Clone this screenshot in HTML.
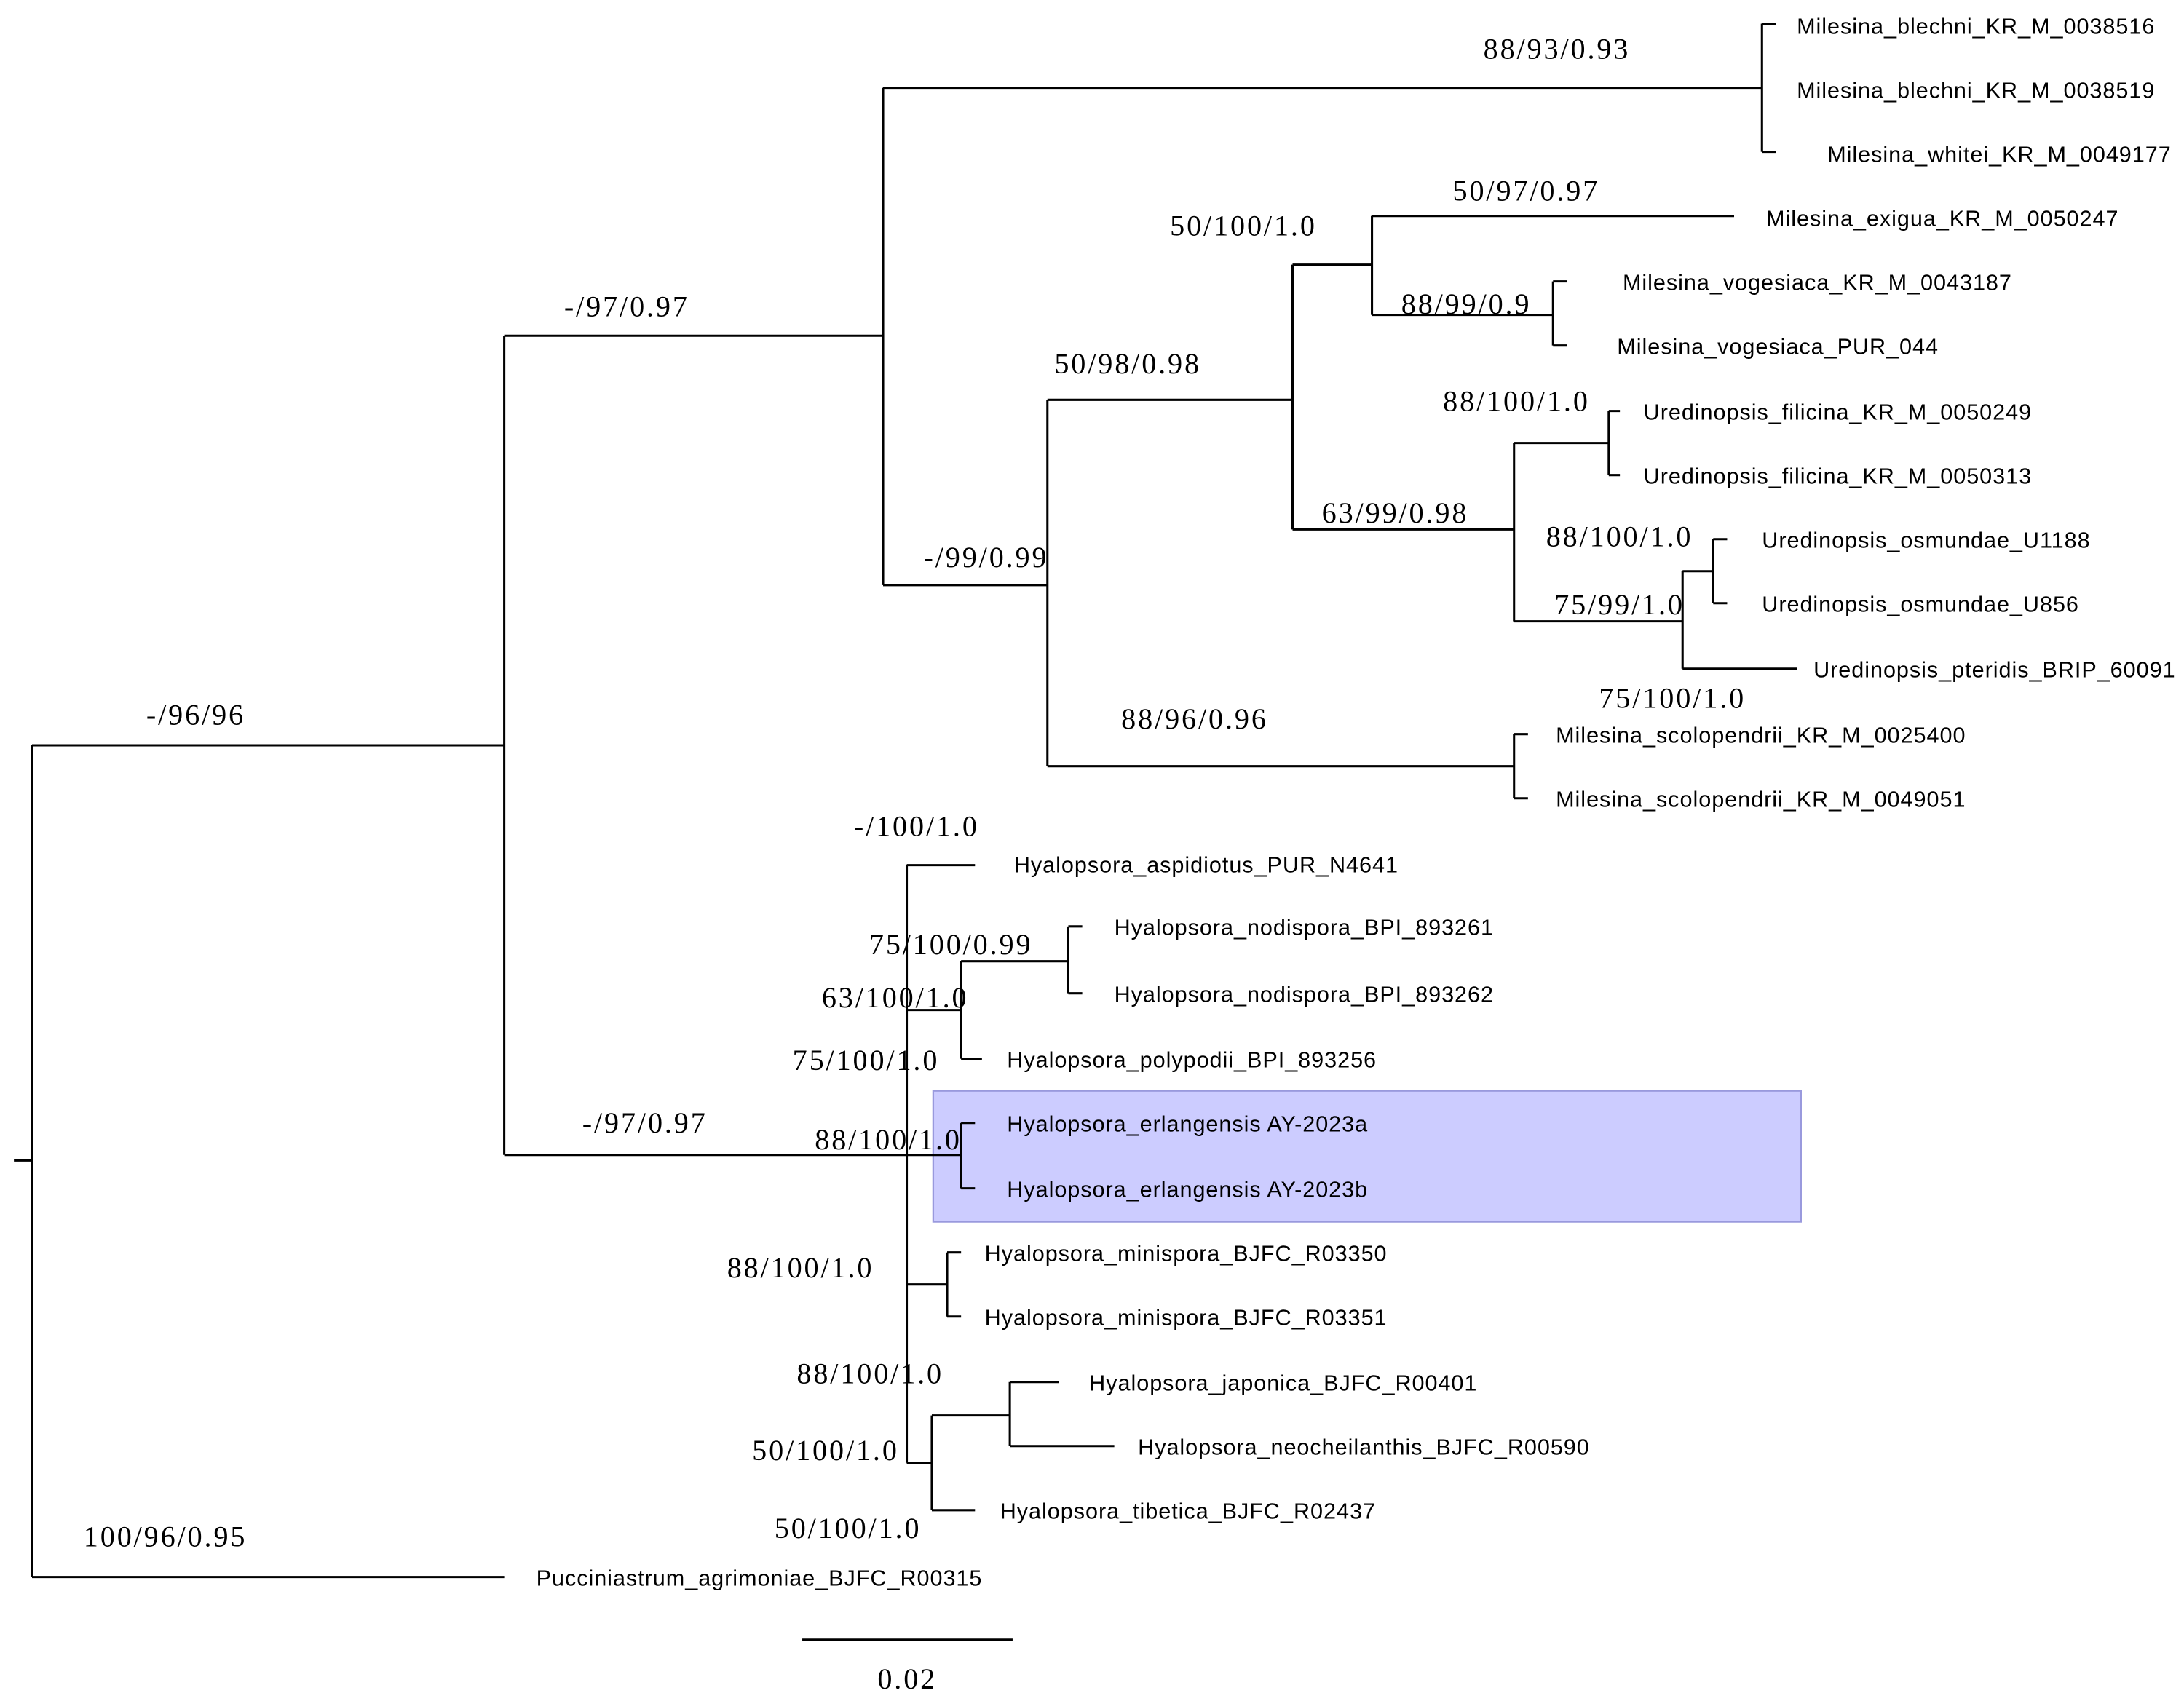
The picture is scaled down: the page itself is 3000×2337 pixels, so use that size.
<!DOCTYPE html>
<html><head><meta charset="utf-8"><style>html,body{margin:0;padding:0;background:#fff}svg{display:block}</style></head><body>
<svg width="3000" height="2337" viewBox="0 0 1568 1221" preserveAspectRatio="none" xmlns="http://www.w3.org/2000/svg">
<rect x="670" y="783" width="623" height="94" fill="#ccccff" stroke="#9999dd" stroke-width="1.2"/>
<g stroke="#000" stroke-width="1.6" fill="none">
<path d="M10 833H23M23 535V1132M23 535H362M23 1132H362"/>
<path d="M362 241V829M362 241H634M362 829H651"/>
<path d="M634 63V420M634 63H1265M1265 17V109M1265 17H1275M1265 109H1275M634 420H752"/>
<path d="M752 287V550M752 287H928M752 550H1087M1087 527V573M1087 527H1097M1087 573H1097"/>
<path d="M928 190V380M928 190H985M985 155V226M985 155H1245M985 226H1115M1115 202V248M1115 202H1125M1115 248H1125"/>
<path d="M928 380H1087M1087 318V446M1087 318H1155M1155 295V341M1155 295H1163M1155 341H1163"/>
<path d="M1087 446H1208M1208 410V480M1208 410H1230M1230 387V433M1230 387H1240M1230 433H1240M1208 480H1290"/>
<path d="M651 621V1050M651 621H700M651 725H690M690 690V760M690 690H767M767 665V713M767 665H777M767 713H777M690 760H705"/>
<path d="M651 829H690M690 806V853M690 806H700M690 853H700"/>
<path d="M651 922H680M680 899V945M680 899H690M680 945H690"/>
<path d="M651 1050H669M669 1016V1084M669 1016H725M725 992V1038M725 992H760M725 1038H800M669 1084H700"/>
<path d="M576 1177H727"/>
</g>
<g font-family="Liberation Sans, sans-serif" font-size="16" letter-spacing="0.5" dominant-baseline="central" fill="#000">
<text x="1290" y="19">Milesina_blechni_KR_M_0038516</text>
<text x="1290" y="65">Milesina_blechni_KR_M_0038519</text>
<text x="1312" y="111">Milesina_whitei_KR_M_0049177</text>
<text x="1268" y="157">Milesina_exigua_KR_M_0050247</text>
<text x="1165" y="203">Milesina_vogesiaca_KR_M_0043187</text>
<text x="1161" y="249">Milesina_vogesiaca_PUR_044</text>
<text x="1180" y="296">Uredinopsis_filicina_KR_M_0050249</text>
<text x="1180" y="342">Uredinopsis_filicina_KR_M_0050313</text>
<text x="1265" y="388">Uredinopsis_osmundae_U1188</text>
<text x="1265" y="434">Uredinopsis_osmundae_U856</text>
<text x="1302" y="481">Uredinopsis_pteridis_BRIP_60091</text>
<text x="1117" y="528">Milesina_scolopendrii_KR_M_0025400</text>
<text x="1117" y="574">Milesina_scolopendrii_KR_M_0049051</text>
<text x="728" y="621">Hyalopsora_aspidiotus_PUR_N4641</text>
<text x="800" y="666">Hyalopsora_nodispora_BPI_893261</text>
<text x="800" y="714">Hyalopsora_nodispora_BPI_893262</text>
<text x="723" y="761">Hyalopsora_polypodii_BPI_893256</text>
<text x="723" y="807">Hyalopsora_erlangensis AY-2023a</text>
<text x="723" y="854">Hyalopsora_erlangensis AY-2023b</text>
<text x="707" y="900">Hyalopsora_minispora_BJFC_R03350</text>
<text x="707" y="946">Hyalopsora_minispora_BJFC_R03351</text>
<text x="782" y="993">Hyalopsora_japonica_BJFC_R00401</text>
<text x="817" y="1039">Hyalopsora_neocheilanthis_BJFC_R00590</text>
<text x="718" y="1085">Hyalopsora_tibetica_BJFC_R02437</text>
<text x="385" y="1133">Pucciniastrum_agrimoniae_BJFC_R00315</text>
</g>
<g font-family="Liberation Serif, serif" font-size="21" letter-spacing="1.5" dominant-baseline="central" fill="#000">
<text x="105" y="513">-/96/96</text>
<text x="60" y="1103">100/96/0.95</text>
<text x="405" y="220">-/97/0.97</text>
<text x="418" y="806">-/97/0.97</text>
<text x="1065" y="35">88/93/0.93</text>
<text x="663" y="400">-/99/0.99</text>
<text x="757" y="261">50/98/0.98</text>
<text x="805" y="516">88/96/0.96</text>
<text x="840" y="162">50/100/1.0</text>
<text x="1043" y="137">50/97/0.97</text>
<text x="1006" y="218">88/99/0.9</text>
<text x="949" y="368">63/99/0.98</text>
<text x="1036" y="288">88/100/1.0</text>
<text x="1116" y="434">75/99/1.0</text>
<text x="1110" y="385">88/100/1.0</text>
<text x="1148" y="501">75/100/1.0</text>
<text x="613" y="593">-/100/1.0</text>
<text x="624" y="678">75/100/0.99</text>
<text x="590" y="716">63/100/1.0</text>
<text x="569" y="761">75/100/1.0</text>
<text x="585" y="818">88/100/1.0</text>
<text x="522" y="910">88/100/1.0</text>
<text x="572" y="986">88/100/1.0</text>
<text x="540" y="1041">50/100/1.0</text>
<text x="556" y="1097">50/100/1.0</text>
<text x="630" y="1205">0.02</text>
</g>
</svg>
</body></html>
